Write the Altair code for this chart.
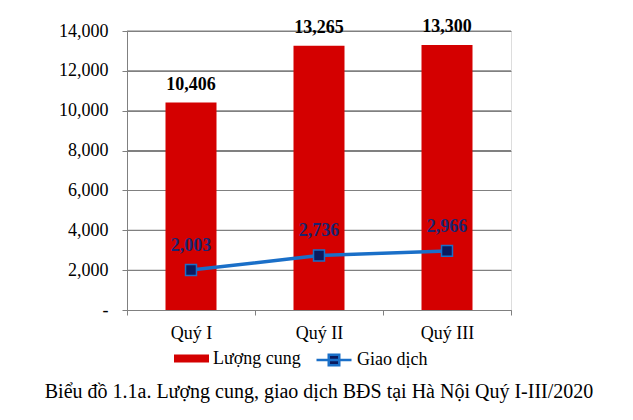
import altair as alt
import pandas as pd

quarters = ["Quý I", "Quý II", "Quý III"]
supply = [10406, 13265, 13300]
deals = [2003, 2736, 2966]
supply_name = "Lượng cung"
deal_name = "Giao dịch"
y_ticks = [0, 2000, 4000, 6000, 8000, 10000, 12000, 14000]
caption = "Biểu đồ 1.1a. Lượng cung, giao dịch BĐS tại Hà Nội Quý I-III/2020"

RED = "#d40000"
BLUE = "#1a6fc8"
NAVY = "#0b1a5e"
GRID = "#808080"
FONT = "Liberation Serif"

df = pd.DataFrame({
    "q": quarters,
    "supply": supply,
    "deal": deals,
    "s1": [supply_name] * 3,
    "s2": [deal_name] * 3,
})
grid_df = pd.DataFrame({"v": y_ticks[1:]})

x = alt.X("q:N", sort=quarters, title=None,
          scale=alt.Scale(paddingInner=0, paddingOuter=0),
          axis=alt.Axis(labelAngle=0, labelFontSize=18, labelFont=FONT, labelColor="black",
                        labelPadding=9, tickBand="extent", tickSize=5, tickColor=GRID,
                        domainColor=GRID, grid=False))
y = alt.Y("v:Q", title=None, scale=alt.Scale(domain=[0, 14000], nice=False),
          axis=alt.Axis(values=y_ticks, labelFontSize=18, labelFont=FONT, labelColor="black",
                        labelPadding=14, tickSize=5, tickColor=GRID, labelOverlap=False,
                        domainColor=GRID, grid=True, gridColor=GRID, gridOpacity=1,
                        gridWidth=1,
                        labelExpr="datum.value == 0 ? '-\u00a0\u00a0' : format(datum.value, ',')"))

grid = alt.Chart(grid_df).mark_tick(orient="horizontal", thickness=1, size=384,
                                    color=GRID, opacity=1).encode(y=y)

base_s = alt.Chart(df).transform_calculate(v="datum.supply")
base_d = alt.Chart(df).transform_calculate(v="datum.deal")

bars = base_s.mark_bar(size=51).encode(
    x=x, y=y,
    fill=alt.Fill("s1:N", scale=alt.Scale(domain=[supply_name], range=[RED]),
                  legend=alt.Legend(title=None, orient="none", legendX=47, legendY=310,
                                    symbolType="M-1,-0.23H1V0.23H-1Z", symbolSize=1225,
                                    symbolStrokeWidth=0, labelFontSize=18, labelFont=FONT,
                                    labelColor="black", labelOffset=4, padding=0)),
)

bar_text = base_s.mark_text(dy=-13, baseline="alphabetic", fontSize=18, font=FONT,
                            fontWeight="bold", color="black").encode(
    x=x, y=y,
    text=alt.Text("supply:Q", format=","),
)

line = base_d.mark_line(strokeWidth=3.5).encode(
    x=x, y=y,
    stroke=alt.Stroke("s2:N", scale=alt.Scale(domain=[deal_name], range=[BLUE]),
                      legend=alt.Legend(title=None, orient="none", legendX=188, legendY=310,
                                        symbolType="M-1,0H1M-0.3,-0.3H0.3V0.3H-0.3Z",
                                        symbolSize=1225, symbolStrokeWidth=2.5,
                                        symbolFillColor=NAVY,
                                        labelFontSize=18, labelFont=FONT,
                                        labelColor="black", labelOffset=4, padding=0)),
)

points = base_d.mark_square(size=120, fill=NAVY, stroke=BLUE, strokeWidth=1.5,
                            opacity=1, fillOpacity=1).encode(x=x, y=y)

line_text = base_d.mark_text(dy=-19, baseline="alphabetic", fontSize=18, font=FONT,
                             fontWeight="bold", color="#1a2470").encode(
    x=x, y=y,
    text=alt.Text("deal:Q", format=","),
)

chart = alt.layer(grid, bars, bar_text, line, points, line_text).resolve_scale(
    stroke="independent").properties(
    width=384, height=279,
    autosize=alt.AutoSizeParams(type="none"),
    padding={"left": 119, "top": 23, "right": 114, "bottom": 102},
    title=alt.TitleParams(caption, orient="bottom", anchor="middle", fontSize=20, font=FONT,
                          fontWeight="normal", color="black", offset=11),
).configure_view(stroke=None).configure(font=FONT)

chart.save("out.html", embed_options={"renderer": "svg", "actions": False})
